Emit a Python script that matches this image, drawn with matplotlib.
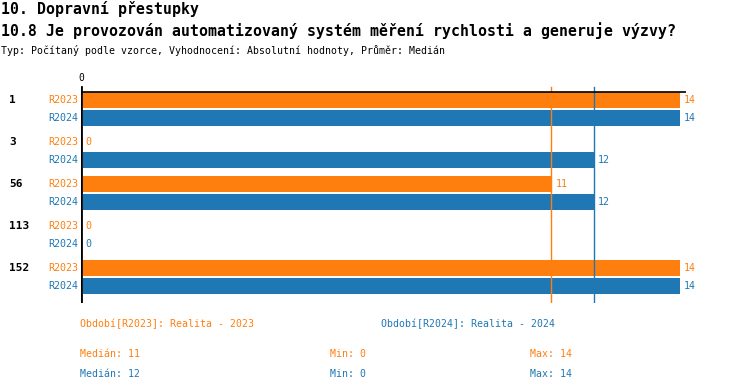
import numpy as np
import matplotlib.pyplot as plt

# data
groups = ["1", "3", "56", "113", "152"]
periods = ["R2023", "R2024"]
r2023 = [14, 0, 11, 0, 14]
r2024 = [14, 12, 12, 0, 14]
colors = ["#ff7f0e", "#1f77b4"]
legend_labels = ["Období[R2023]: Realita - 2023", "Období[R2024]: Realita - 2024"]
medians = [11, 12]
mins = [0, 0]
maxs = [14, 14]

W, H = 750, 392
plt.rcParams['font.family'] = ['DejaVu Sans Mono']

fig = plt.figure(figsize=(W / 100, H / 100), dpi=100)

def fx(px):
    return px / W

def fy(py):
    return 1 - py / H

# header
fig.text(fx(1), fy(9), "10. Dopravní přestupky", fontsize=10.7, fontweight="bold", va="center")
fig.text(fx(1), fy(31), "10.8 Je provozován automatizovaný systém měření rychlosti a generuje výzvy?",
         fontsize=10.7, fontweight="bold", va="center")
fig.text(fx(1), fy(50), "Typ: Počítaný podle vzorce, Vyhodnocení: Absolutní hodnoty, Průměr: Medián",
         fontsize=7.1, va="center")

# axes in pixel placement: x 81..686, y 83..303
ax_l, ax_r, ax_t, ax_b = 81, 686, 83, 303
ax = fig.add_axes([fx(ax_l), fy(ax_b), (ax_r - ax_l) / W, (ax_b - ax_t) / H])
px_per_unit = (681 - 83) / 14
ax.set_xlim(0, (ax_r - ax_l) / px_per_unit)
# group i center at pixel 109 + 42 i
ax.set_ylim((ax_b - 109) / 42, (ax_t - 109) / 42)
ax.axis("off")

y = np.arange(len(groups))
bar_h = 16 / 42
off = 9 / 42
left0 = 1.5 / px_per_unit
for k, vals in enumerate([r2023, r2024]):
    yy = y + (-off if k == 0 else off)
    ax.barh(yy, vals, height=bar_h, color=colors[k], left=left0)
    for yi, v in zip(yy, vals):
        ax.text(v + left0 + 3 / px_per_unit, yi, str(v), color=colors[k],
                fontsize=7.2, va="center", ha="left")
        ax.text(-3 / px_per_unit, yi, periods[k], color=colors[k],
                fontsize=7.2, va="center", ha="right", clip_on=False)

for i, g in enumerate(groups):
    ax.text(-72 / px_per_unit, y[i] - off, g, fontsize=8, fontweight="bold",
            va="center", ha="left", clip_on=False)

# median lines
for k, m in enumerate(medians):
    ax.axvline(m, ymin=0, ymax=(ax_b - 87) / (ax_b - ax_t), color=colors[k], lw=1)

# axis lines
ax.axvline(0, ymin=0, ymax=(ax_b - 87) / (ax_b - ax_t), color="black", lw=2)
ax.axhline((92 - 109) / 42, xmin=0, xmax=1, color="black", lw=1.2)
ax.text(0, (ax_t - 109) / 42, "0", fontsize=7, ha="center", va="bottom", clip_on=False)

# legend and stats
leg_x = [80, 381]
for k in range(2):
    fig.text(fx(leg_x[k]), fy(324), legend_labels[k], color=colors[k], fontsize=7.1, va="center")
    yrow = 354 + 20 * k
    fig.text(fx(80), fy(yrow), f"Medián: {medians[k]}", color=colors[k], fontsize=7.1, va="center")
    fig.text(fx(330), fy(yrow), f"Min: {mins[k]}", color=colors[k], fontsize=7.1, va="center")
    fig.text(fx(530), fy(yrow), f"Max: {maxs[k]}", color=colors[k], fontsize=7.1, va="center")

fig.savefig("out.png", dpi=100)
